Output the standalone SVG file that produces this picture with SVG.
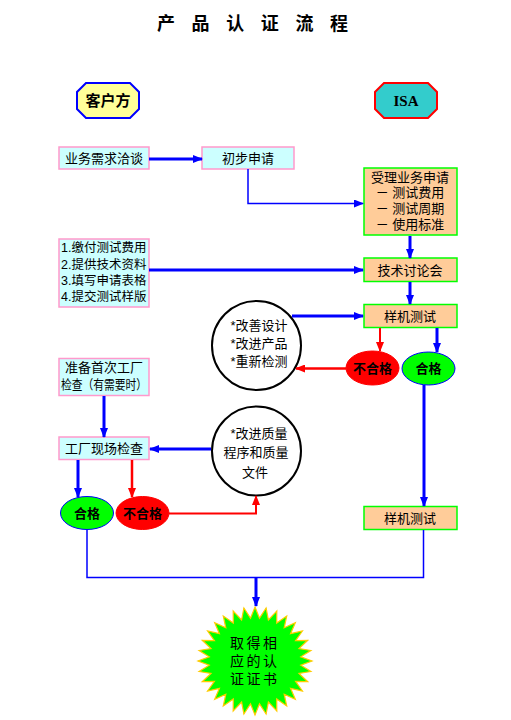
<svg xmlns="http://www.w3.org/2000/svg" width="511" height="720" viewBox="0 0 511 720">
<defs>
<marker id="ab" markerUnits="userSpaceOnUse" markerWidth="10" markerHeight="8" refX="9" refY="4" orient="auto"><path d="M0,0 L10,4 L0,8 Z" fill="#0000FF"/></marker>
<marker id="ar" markerUnits="userSpaceOnUse" markerWidth="10" markerHeight="8" refX="9" refY="4" orient="auto"><path d="M0,0 L10,4 L0,8 Z" fill="#FF0000"/></marker>
<style>
text{font-family:"Liberation Sans","Noto Sans CJK SC",sans-serif;font-size:13px;fill:#000}
.c{text-anchor:middle;dominant-baseline:central}
.b{font-weight:bold}
.cust{fill:#CCFFFF;stroke:#FF99CC;stroke-width:1.5}
.isa{fill:#FFCC99;stroke:#00FF00;stroke-width:1.5}
.ok{fill:#00FF00;stroke:#0000FF;stroke-width:1}
.ng{fill:#FF0000;stroke:#FF0000;stroke-width:1}
.cir{fill:#FFFFFF;stroke:#000;stroke-width:2}
.bl{stroke:#0000FF;fill:none}
.rd{stroke:#FF0000;fill:none}
.lst{font-size:12.5px;dominant-baseline:central}
</style>
</defs>
<rect width="511" height="720" fill="#FFFFFF"/>
<text id="title" class="c b" style="font-size:18px" x="166 200.6 235.2 269.8 304.4 339" y="24">产品认证流程</text>

<g id="n-client"><polygon points="86,83 130,83 139,92 139,109 130,118 86,118 77,109 77,92" fill="#FFFF99" stroke="#0000FF" stroke-width="2"/><text class="c b" style="font-size:15px" x="108" y="100.5">客户方</text></g>
<g id="n-isa"><polygon points="384,83 428,83 437,92 437,109 428,118 384,118 375,109 375,92" fill="#33CCCC" stroke="#FF0000" stroke-width="2"/><text class="c b" style="font-family:'Liberation Serif',serif;font-size:15px" x="406" y="100.5">ISA</text></g>

<g id="n-xuqiu"><rect class="cust" x="59" y="147" width="90" height="22"/><text class="c" x="104" y="158">业务需求洽谈</text></g>
<g id="n-chubu"><rect class="cust" x="202" y="147" width="92" height="22"/><text class="c" x="248" y="158">初步申请</text></g>
<g id="n-shouli"><rect class="isa" x="364" y="168" width="93" height="67"/>
<text class="c" x="410" y="177">受理业务申请</text><text class="c" x="410" y="192.5">－ 测试费用</text><text class="c" x="410" y="208.5">－ 测试周期</text><text class="c" x="410" y="224.5">－ 使用标准</text></g>
<g id="n-list"><rect class="cust" x="59" y="239" width="90" height="68"/>
<text class="lst" x="61" y="248">1.缴付测试费用</text><text class="lst" x="61" y="264.5">2.提供技术资料</text><text class="lst" x="61" y="280.5">3.填写申请表格</text><text class="lst" x="61" y="296.5">4.提交测试样版</text></g>
<g id="n-jishu"><rect class="isa" x="364" y="258" width="93" height="23.5"/><text class="c" x="410" y="270">技术讨论会</text></g>
<g id="n-yangji1"><rect class="isa" x="364" y="304.5" width="93" height="23"/><text class="c" x="410" y="316">样机测试</text></g>
<g id="n-circle1"><circle class="cir" cx="256.5" cy="345.5" r="44.5"/>
<text class="c" x="259" y="325">*改善设计</text><text class="c" x="259" y="343">*改进产品</text><text class="c" x="259" y="361">*重新检测</text></g>
<g id="n-ng1"><ellipse class="ng" cx="372.5" cy="368" rx="26.5" ry="17"/><text class="c b" x="372.5" y="368.5">不合格</text></g>
<g id="n-ok1"><ellipse class="ok" cx="428.5" cy="368.5" rx="26.5" ry="16.5"/><text class="c b" x="428.5" y="368.5">合格</text></g>
<g id="n-zhunbei"><rect class="cust" x="59" y="358.5" width="90" height="37"/><text class="c" x="104" y="367">准备首次工厂</text><text class="c" x="104" y="384" textLength="86" lengthAdjust="spacingAndGlyphs">检查（有需要时）</text></g>
<g id="n-gongchang"><rect class="cust" x="59" y="437" width="90" height="22.5"/><text class="c" x="104" y="448.5">工厂现场检查</text></g>
<g id="n-circle2"><circle class="cir" cx="256.5" cy="451" r="44.5"/>
<text class="c" x="259" y="433">*改进质量</text><text class="c" x="256" y="452.5">程序和质量</text><text class="c" x="255" y="472">文件</text></g>
<g id="n-ok2"><ellipse class="ok" cx="87" cy="513" rx="26.5" ry="16.5"/><text class="c b" x="87" y="513">合格</text></g>
<g id="n-ng2"><ellipse class="ng" cx="142.5" cy="513" rx="26.5" ry="16.5"/><text class="c b" x="142.5" y="513">不合格</text></g>
<g id="n-yangji2"><rect class="isa" x="364" y="506.5" width="93" height="23"/><text class="c" x="410" y="518">样机测试</text></g>
<g id="n-cert"><polygon fill="#00FF00" stroke="#FFCC00" stroke-width="1.2" points="255,607 259.5,618.2 266.1,608 268.4,619.9 276.8,611.1 276.7,623.1 286.7,616.1 284.2,627.8 295.3,622.8 290.6,633.7 302.4,631 295.6,640.7 307.7,640.3 299,648.5 310.9,650.5 300.8,656.8 312,661 300.8,665.2 310.9,671.5 299,673.5 307.7,681.7 295.6,681.3 302.4,691 290.6,688.3 295.3,699.2 284.2,694.2 286.7,705.9 276.7,698.9 276.8,710.9 268.4,702.1 266.1,714 259.5,703.8 255,715 250.5,703.8 243.9,714 241.6,702.1 233.2,710.9 233.3,698.9 223.3,705.9 225.8,694.2 214.7,699.2 219.4,688.3 207.6,691 214.4,681.3 202.3,681.7 211,673.5 199.1,671.5 209.2,665.2 198,661 209.2,656.8 199.1,650.5 211,648.5 202.3,640.3 214.4,640.7 207.6,631 219.4,633.7 214.7,622.8 225.8,627.8 223.3,616.1 233.3,623.1 233.2,611.1 241.6,619.9 243.9,608 250.5,618.2"/>
<text class="c" style="font-size:14px" x="237 253.5 270" y="643">取得相</text><text class="c" style="font-size:14px" x="237 253.5 270" y="661">应的认</text><text class="c" style="font-size:14px" x="237 253.5 270" y="678.5">证证书</text></g>

<g id="connectors">
<line class="bl" x1="149" y1="159" x2="202" y2="159" stroke-width="3" marker-end="url(#ab)"/>
<polyline class="bl" points="248,169 248,203.5 363,203.5" stroke-width="1.5" marker-end="url(#ab)"/>
<line class="bl" x1="410" y1="236" x2="410" y2="258" stroke-width="3" marker-end="url(#ab)"/>
<line class="bl" x1="149" y1="270" x2="363" y2="270" stroke-width="3" marker-end="url(#ab)"/>
<line class="bl" x1="410" y1="282" x2="410" y2="304" stroke-width="3" marker-end="url(#ab)"/>
<line class="bl" x1="292" y1="316" x2="363" y2="316" stroke-width="3" marker-end="url(#ab)"/>
<line class="rd" x1="380" y1="328" x2="380" y2="351" stroke-width="2" marker-end="url(#ar)"/>
<line class="bl" x1="437" y1="328" x2="437" y2="352" stroke-width="3" marker-end="url(#ab)"/>
<line class="rd" x1="346" y1="368.5" x2="296" y2="368.5" stroke-width="2.5" marker-end="url(#ar)"/>
<line class="bl" x1="424" y1="385" x2="424" y2="506" stroke-width="3" marker-end="url(#ab)"/>
<line class="bl" x1="104" y1="396" x2="104" y2="437" stroke-width="3" marker-end="url(#ab)"/>
<line class="bl" x1="211" y1="449" x2="150" y2="449" stroke-width="3" marker-end="url(#ab)"/>
<line class="bl" x1="78" y1="460" x2="78" y2="497" stroke-width="3" marker-end="url(#ab)"/>
<line class="rd" x1="132" y1="460" x2="132" y2="497" stroke-width="2.5" marker-end="url(#ar)"/>
<polyline class="rd" points="169,513.5 256,513.5 256,496" stroke-width="2" marker-end="url(#ar)"/>
<polyline class="bl" points="87,530 87,577.5 423.5,577.5 423.5,530" stroke-width="1.5"/>
<line class="bl" x1="256" y1="577.5" x2="256" y2="606" stroke-width="3" marker-end="url(#ab)"/>
</g>
</svg>
